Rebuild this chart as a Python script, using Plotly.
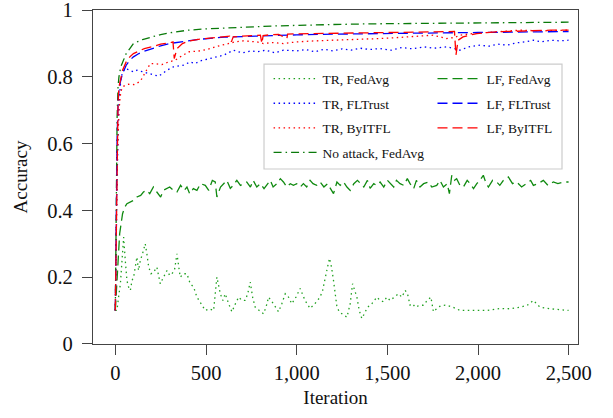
import plotly.graph_objects as go

# ---------------- data ----------------
tr_fedavg_x = [0, 9, 18, 28, 37, 46, 55, 64, 73, 83, 92, 101, 110, 119, 128, 138, 150, 165, 174, 184, 197, 211, 229, 248, 266, 285, 300, 312, 326, 340, 350, 358, 376, 395, 413, 432, 450, 473, 496, 519, 542, 560, 579, 593, 606, 625, 643, 662, 680, 698, 716, 730, 744, 757, 771, 794, 817, 831, 845, 872, 900, 918, 937, 955, 973, 996, 1019, 1046, 1074, 1100, 1129, 1143, 1157, 1170, 1181, 1192, 1203, 1213, 1222, 1236, 1249, 1263, 1277, 1286, 1295, 1308, 1320, 1332, 1345, 1359, 1373, 1387, 1400, 1414, 1428, 1442, 1460, 1478, 1497, 1515, 1538, 1561, 1580, 1598, 1611, 1625, 1640, 1653, 1676, 1699, 1720, 1740, 1754, 1780, 1800, 1827, 1860, 1901, 1950, 1993, 2050, 2121, 2180, 2231, 2270, 2305, 2341, 2400, 2470, 2499]
tr_fedavg_y = [0.10, 0.10, 0.14, 0.18, 0.25, 0.32, 0.25, 0.19, 0.17, 0.16, 0.19, 0.20, 0.23, 0.26, 0.22, 0.25, 0.27, 0.30, 0.27, 0.23, 0.21, 0.215, 0.23, 0.18, 0.20, 0.22, 0.205, 0.21, 0.22, 0.27, 0.23, 0.20, 0.21, 0.21, 0.18, 0.17, 0.14, 0.12, 0.10, 0.105, 0.10, 0.20, 0.15, 0.13, 0.15, 0.12, 0.096, 0.12, 0.14, 0.13, 0.13, 0.15, 0.185, 0.14, 0.11, 0.10, 0.09, 0.11, 0.14, 0.12, 0.096, 0.12, 0.15, 0.14, 0.12, 0.14, 0.166, 0.13, 0.106, 0.12, 0.14, 0.16, 0.20, 0.23, 0.256, 0.23, 0.19, 0.15, 0.11, 0.095, 0.09, 0.085, 0.08, 0.10, 0.12, 0.18, 0.16, 0.14, 0.10, 0.076, 0.09, 0.106, 0.115, 0.12, 0.13, 0.14, 0.13, 0.126, 0.14, 0.13, 0.14, 0.15, 0.14, 0.16, 0.15, 0.116, 0.12, 0.11, 0.115, 0.116, 0.13, 0.14, 0.096, 0.11, 0.115, 0.116, 0.11, 0.10, 0.10, 0.10, 0.10, 0.106, 0.105, 0.11, 0.115, 0.13, 0.11, 0.105, 0.10, 0.10]

tr_fltrust_x = [0, 10, 20, 30, 40, 55, 80, 100, 119, 150, 193, 239, 260, 285, 320, 376, 413, 440, 468, 520, 560, 597, 615, 651, 700, 750, 780, 830, 880, 926, 1000, 1050, 1100, 1150, 1200, 1250, 1300, 1350, 1400, 1460, 1520, 1580, 1640, 1700, 1760, 1827, 1870, 1900, 1950, 2011, 2060, 2110, 2160, 2210, 2260, 2304, 2350, 2400, 2450, 2499]
tr_fltrust_y = [0.10, 0.50, 0.72, 0.79, 0.815, 0.825, 0.82, 0.815, 0.82, 0.815, 0.81, 0.802, 0.81, 0.82, 0.83, 0.835, 0.845, 0.84, 0.848, 0.855, 0.86, 0.865, 0.87, 0.88, 0.872, 0.878, 0.875, 0.88, 0.872, 0.88, 0.878, 0.882, 0.875, 0.883, 0.878, 0.884, 0.88, 0.886, 0.882, 0.885, 0.88, 0.888, 0.884, 0.89, 0.886, 0.89, 0.885, 0.88, 0.89, 0.895, 0.892, 0.898, 0.895, 0.902, 0.905, 0.91, 0.905, 0.91, 0.908, 0.91]

tr_byitfl_x = [0, 10, 20, 30, 40, 55, 73, 106, 138, 160, 193, 211, 257, 294, 330, 358, 404, 468, 505, 551, 615, 660, 706, 780, 816, 870, 926, 1000, 1100, 1200, 1300, 1400, 1460, 1532, 1642, 1752, 1827, 1870, 1900, 1972, 2103, 2231, 2350, 2488, 2499]
tr_byitfl_y = [0.10, 0.55, 0.70, 0.755, 0.77, 0.775, 0.778, 0.777, 0.787, 0.81, 0.84, 0.84, 0.837, 0.845, 0.85, 0.86, 0.875, 0.878, 0.882, 0.89, 0.90, 0.905, 0.908, 0.905, 0.90, 0.903, 0.90, 0.905, 0.908, 0.91, 0.91, 0.912, 0.915, 0.917, 0.92, 0.925, 0.915, 0.918, 0.925, 0.93, 0.935, 0.94, 0.938, 0.94, 0.94]

lf_fedavg_x = [0, 10, 24, 40, 52, 64, 83, 100, 119, 140, 155, 174, 190, 210, 229, 250, 265, 285, 300, 320, 340, 360, 380, 395, 410, 430, 450, 470, 496, 515, 535, 551, 560, 580, 597, 615, 634, 650, 670, 690, 710, 725, 745, 760, 780, 800, 820, 836, 855, 870, 891, 910, 927, 945, 965, 982, 1000, 1020, 1037, 1055, 1074, 1090, 1110, 1129, 1150, 1170, 1194, 1203, 1222, 1240, 1258, 1277, 1295, 1315, 1335, 1350, 1370, 1390, 1405, 1425, 1440, 1460, 1480, 1500, 1515, 1535, 1550, 1570, 1590, 1610, 1625, 1645, 1660, 1680, 1700, 1726, 1745, 1772, 1790, 1809, 1830, 1842, 1855, 1870, 1882, 1900, 1919, 1940, 1956, 1975, 1993, 2010, 2029, 2045, 2057, 2080, 2103, 2120, 2140, 2167, 2190, 2213, 2240, 2268, 2290, 2305, 2330, 2360, 2385, 2415, 2440, 2470, 2499]
lf_fedavg_y = [0.10, 0.20, 0.33, 0.39, 0.41, 0.42, 0.425, 0.43, 0.44, 0.445, 0.455, 0.46, 0.45, 0.47, 0.455, 0.44, 0.46, 0.466, 0.47, 0.46, 0.455, 0.475, 0.46, 0.47, 0.45, 0.465, 0.46, 0.48, 0.475, 0.46, 0.49, 0.485, 0.44, 0.47, 0.48, 0.49, 0.466, 0.475, 0.49, 0.475, 0.48, 0.485, 0.47, 0.49, 0.47, 0.48, 0.465, 0.475, 0.49, 0.47, 0.48, 0.495, 0.485, 0.47, 0.48, 0.475, 0.48, 0.47, 0.48, 0.47, 0.49, 0.48, 0.475, 0.485, 0.47, 0.48, 0.46, 0.45, 0.485, 0.475, 0.485, 0.47, 0.46, 0.48, 0.49, 0.48, 0.47, 0.49, 0.466, 0.48, 0.475, 0.485, 0.47, 0.49, 0.48, 0.47, 0.49, 0.48, 0.475, 0.495, 0.48, 0.465, 0.49, 0.47, 0.48, 0.485, 0.47, 0.475, 0.49, 0.47, 0.48, 0.45, 0.505, 0.49, 0.495, 0.475, 0.47, 0.49, 0.48, 0.465, 0.48, 0.49, 0.505, 0.48, 0.47, 0.49, 0.485, 0.475, 0.49, 0.50, 0.48, 0.485, 0.47, 0.48, 0.49, 0.475, 0.48, 0.49, 0.475, 0.485, 0.48, 0.485, 0.485]

lf_fltrust_x = [0, 5, 10, 15, 20, 30, 40, 60, 80, 100, 130, 160, 200, 250, 300, 350, 400, 450, 500, 600, 700, 800, 900, 1000, 1200, 1400, 1600, 1800, 2000, 2200, 2400, 2499]
lf_fltrust_y = [0.10, 0.40, 0.62, 0.72, 0.76, 0.79, 0.81, 0.835, 0.85, 0.86, 0.87, 0.877, 0.885, 0.893, 0.90, 0.905, 0.908, 0.912, 0.915, 0.919, 0.921, 0.923, 0.925, 0.926, 0.928, 0.93, 0.931, 0.932, 0.933, 0.934, 0.935, 0.936]

lf_byitfl_x = [0, 5, 10, 15, 20, 30, 40, 60, 80, 100, 130, 160, 200, 250, 300, 318, 325, 340, 370, 400, 450, 500, 550, 600, 630, 640, 650, 700, 750, 800, 808, 815, 850, 900, 946, 950, 1000, 1100, 1200, 1300, 1400, 1500, 1600, 1700, 1800, 1870, 1878, 1890, 1917, 1993, 2100, 2200, 2300, 2400, 2499]
lf_byitfl_y = [0.10, 0.35, 0.60, 0.72, 0.77, 0.80, 0.82, 0.845, 0.86, 0.87, 0.878, 0.885, 0.89, 0.898, 0.902, 0.905, 0.855, 0.885, 0.90, 0.907, 0.912, 0.915, 0.918, 0.92, 0.922, 0.905, 0.92, 0.922, 0.924, 0.925, 0.90, 0.924, 0.926, 0.927, 0.915, 0.928, 0.929, 0.93, 0.93, 0.931, 0.932, 0.933, 0.934, 0.935, 0.935, 0.936, 0.865, 0.91, 0.92, 0.93, 0.935, 0.937, 0.938, 0.94, 0.94]

noattack_x = [0, 5, 10, 15, 20, 30, 45, 60, 80, 100, 150, 200, 250, 300, 400, 500, 600, 700, 800, 900, 1000, 1200, 1400, 1600, 1800, 2000, 2200, 2400, 2499]
noattack_y = [0.10, 0.45, 0.68, 0.77, 0.80, 0.83, 0.85, 0.87, 0.885, 0.90, 0.912, 0.92, 0.927, 0.932, 0.94, 0.944, 0.947, 0.949, 0.951, 0.953, 0.955, 0.957, 0.959, 0.96, 0.961, 0.962, 0.963, 0.963, 0.964]

x_ticks = [0, 500, 1000, 1500, 2000, 2500]
y_ticks = [0, 0.2, 0.4, 0.6, 0.8, 1]
y_tick_text = ["0", "0.2", "0.4", "0.6", "0.8", "1"]

# ---------------- styles ----------------
DOT = "1.5px,3.5px"
DASH = "10px,5px"
DASHDOT = "8px,4px,1.5px,4px"
FONT = "Liberation Serif"

series = [
    ("TR, FedAvg", tr_fedavg_x, tr_fedavg_y, "#1fa01f", DOT, "legend"),
    ("TR, FLTrust", tr_fltrust_x, tr_fltrust_y, "#0000ff", DOT, "legend"),
    ("TR, ByITFL", tr_byitfl_x, tr_byitfl_y, "#ff0000", DOT, "legend"),
    ("No attack, FedAvg", noattack_x, noattack_y, "#0a7a0a", DASHDOT, "legend"),
    ("LF, FedAvg", lf_fedavg_x, lf_fedavg_y, "#108a10", DASH, "legend2"),
    ("LF, FLTrust", lf_fltrust_x, lf_fltrust_y, "#0000ff", DASH, "legend2"),
    ("LF, ByITFL", lf_byitfl_x, lf_byitfl_y, "#ff0000", DASH, "legend2"),
]

fig = go.Figure()
for i, (name, xs, ys, col, dash, leg) in enumerate(series):
    fig.add_trace(go.Scatter(
        x=xs, y=ys, mode="lines", name=name,
        line=dict(color=col, width=1.3, dash=dash),
        legend=leg, legendgroup="g%d" % i,
    ))

axis_common = dict(
    showline=True, linecolor="#444", linewidth=1.2, mirror=True,
    ticks="outside", ticklen=10, tickcolor="#444", tickwidth=1.2,
    showgrid=False, zeroline=False, automargin=False,
    ticklabeloverflow="allow",
    tickfont=dict(family=FONT, size=20.5, color="#111"),
)

fig.update_layout(
    template="none",
    width=613, height=418,
    margin=dict(l=93, r=35, t=10, b=74),
    paper_bgcolor="white", plot_bgcolor="white",
    font=dict(family=FONT, color="#111"),
    xaxis=dict(range=[-123, 2551], tickvals=x_ticks, tickformat=",d",
               title=dict(text="Iteration", font=dict(family=FONT, size=19), standoff=7),
               **axis_common),
    yaxis=dict(range=[-0.0005, 1.0005], tickvals=y_ticks, ticktext=y_tick_text,
               ticklabelstandoff=5,
               title=dict(text="Accuracy", font=dict(family=FONT, size=19), standoff=14),
               **axis_common),
    legend=dict(x=0.362, y=0.84, xanchor="left", yanchor="top",
                bgcolor="rgba(0,0,0,0)", borderwidth=0, tracegroupgap=4,
                itemwidth=44, font=dict(family=FONT, size=13.5, color="#111")),
    legend2=dict(x=0.70, y=0.84, xanchor="left", yanchor="top",
                 bgcolor="rgba(0,0,0,0)", borderwidth=0, tracegroupgap=4,
                 itemwidth=44, font=dict(family=FONT, size=13.5, color="#111")),
    shapes=[dict(type="rect", xref="paper", yref="paper",
                 x0=0.3526, x1=0.967, y0=0.524, y1=0.838,
                 line=dict(color="#cccccc", width=1.2), fillcolor="white", layer="above")],
)

fig.write_html("out.html", config={"displayModeBar": False},
               post_script="document.body.style.margin='0';")
